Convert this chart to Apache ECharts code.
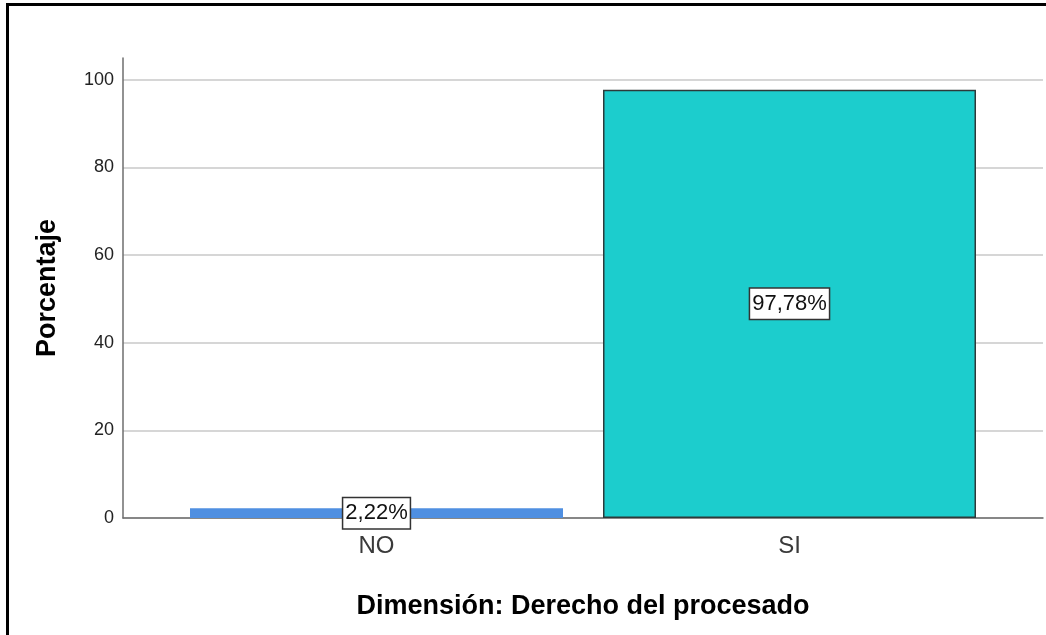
<!DOCTYPE html>
<html>
<head>
<meta charset="utf-8">
<script src="https://cdn.jsdelivr.net/npm/echarts@6/dist/echarts.min.js"></script>
<style>
  html, body { margin: 0; padding: 0; background: #fff; }
  #chart { width: 1046px; height: 635px; }
</style>
</head>
<body>
<div id="chart"></div>
<script>
const categories = ['NO', 'SI'];
const percentValues = [2.22, 97.78];
const barColors = ['#4f8fe1', '#1ccdcd'];
const yTicks = [0, 20, 40, 60, 80, 100];

const chart = echarts.init(document.getElementById('chart'), null, { renderer: 'canvas' });
const fontFam = '"Liberation Sans", Arial, sans-serif';

const option = {
  backgroundColor: '#ffffff',
  animation: false,
  graphic: [
    { type: 'rect', shape: { x: 6, y: 3, width: 1046, height: 3 }, style: { fill: '#000' }, silent: true },
    { type: 'rect', shape: { x: 6, y: 3, width: 3, height: 640 }, style: { fill: '#000' }, silent: true }
  ],
  grid: [
    { left: 123, right: 3, top: 58, bottom: 117, containLabel: false },
    { left: 170, right: 50, top: 58, bottom: 117, containLabel: false }
  ],
  xAxis: [
    {
      gridIndex: 0, type: 'value', min: 0, max: 1,
      axisLine: { show: true, lineStyle: { color: '#6e6e6e', width: 1.5 } },
      axisTick: { show: false }, axisLabel: { show: false }, splitLine: { show: false },
      name: 'Dimensión: Derecho del procesado', nameLocation: 'middle', nameGap: 75,
      nameTextStyle: { fontFamily: fontFam, fontSize: 27, fontWeight: 'bold', color: '#000' }
    },
    {
      gridIndex: 1, type: 'category', data: categories,
      axisLine: { show: false }, axisTick: { show: false },
      axisLabel: { fontFamily: fontFam, fontSize: 24, color: '#3a3a3a', margin: 16 },
      splitLine: { show: false }
    }
  ],
  yAxis: [
    {
      gridIndex: 0, type: 'value', min: 0, max: 105, interval: 20,
      axisLine: { show: true, lineStyle: { color: '#6e6e6e', width: 1.5 } },
      axisTick: { show: false },
      axisLabel: {
        fontFamily: fontFam, fontSize: 18, color: '#222', margin: 9, showMaxLabel: false,
        formatter: v => (yTicks.indexOf(v) >= 0 ? String(v) : '')
      },
      splitLine: { show: true, showMaxLine: false, lineStyle: { color: '#d6d6d6', width: 2 } },
      name: 'Porcentaje', nameLocation: 'middle', nameGap: 62,
      nameTextStyle: { fontFamily: fontFam, fontSize: 27, fontWeight: 'bold', color: '#000' }
    },
    {
      gridIndex: 1, type: 'value', min: 0, max: 105, show: false, splitLine: { show: false }
    }
  ],
  series: [
    {
      type: 'bar', xAxisIndex: 1, yAxisIndex: 1,
      barWidth: 373,
      data: percentValues.map((v, i) => ({
        value: v,
        itemStyle: {
          color: barColors[i],
          borderColor: i === 1 ? '#2d3a3a' : barColors[i],
          borderWidth: i === 1 ? 1.5 : 0
        }
      })),
      label: {
        show: true, position: 'inside',
        formatter: p => p.value.toFixed(2).replace('.', ',') + '%',
        fontFamily: fontFam, fontSize: 22, color: '#111',
        backgroundColor: '#fff', borderColor: '#333', borderWidth: 1.5,
        padding: [5, 2, 3, 2]
      },
      z: 3
    }
  ]
};
chart.setOption(option);
</script>
</body>
</html>
